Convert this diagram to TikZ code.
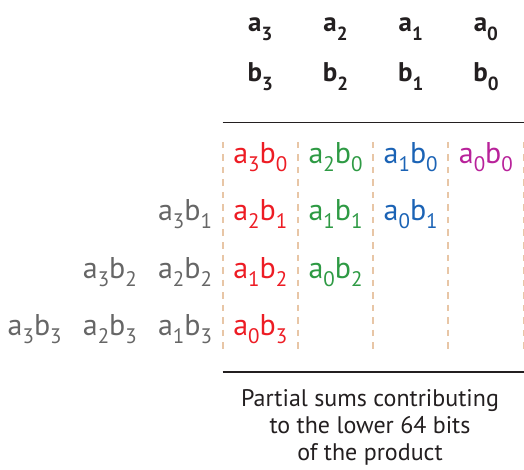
\documentclass[tikz,border=0pt]{standalone}
\usepackage{fontspec}
\setmainfont{PT Sans}

\definecolor{ink}{HTML}{231F20}
\definecolor{tan}{HTML}{E8C6A6}
\definecolor{termred}{HTML}{ED1C24}
\definecolor{termgreen}{HTML}{2E9A44}
\definecolor{termblue}{HTML}{1B63B5}
\definecolor{termmag}{HTML}{B8229A}
\definecolor{termgray}{HTML}{666666}

% lowered digit used as an index
\newcommand\cellsub[1]{\raisebox{-8pt}{\fontsize{21}{21}\selectfont #1}}
\newcommand\headsub[1]{\raisebox{-9pt}{\fontsize{19}{19}\selectfont #1}}
% one partial product a_i b_j
\newcommand\pterm[2]{a\cellsub{#1}b\cellsub{#2}}

\begin{document}
\begin{tikzpicture}[x=1pt,y=-1pt,
  cell/.style={anchor=base, inner sep=0pt, font=\fontsize{30}{30}\selectfont},
  head/.style={anchor=base, inner sep=0pt, text=ink,
    font=\fontsize{27}{27}\selectfont\bfseries},
  rulebar/.style={draw=ink, line width=1.4pt},
  colsep/.style={draw=tan, line width=2pt, dash pattern=on 6.5pt off 6pt},
  caption/.style={anchor=north, inner sep=0pt, align=center, text=ink,
    font=\fontsize{24}{27}\selectfont}]
\useasboundingbox (0,0) rectangle (524,470);

% operand digits
\node[head] (a3) at (260.3,32) {a\headsub{3}};
\node[head] (a2) at (335.5,32) {a\headsub{2}};
\node[head] (a1) at (410.7,32) {a\headsub{1}};
\node[head] (a0) at (485.9,32) {a\headsub{0}};
\node[head] (b3) at (260.3,82) {b\headsub{3}};
\node[head] (b2) at (335.5,82) {b\headsub{2}};
\node[head] (b1) at (410.7,82) {b\headsub{1}};
\node[head] (b0) at (485.9,82) {b\headsub{0}};

% rules above and below the lower half
\coordinate (topL) at (222.7,122.5);
\coordinate (topR) at (524,122.5);
\coordinate (botL) at (222.7,372);
\coordinate (botR) at (524,372);
\draw[rulebar] (topL) -- (topR);
\draw[rulebar] (botL) -- (botR);

% column separators
\foreach \i/\x in {0/222.7,1/297.9,2/373.1,3/448.3,4/523.5}{
  \coordinate (sepT\i) at (\x,142);
  \coordinate (sepB\i) at (\x,354);
  \draw[colsep] (sepT\i) -- (sepB\i);
}

% row for b0
\node[cell, text=termred]   (a3b0) at (260.3,164) {\pterm{3}{0}};
\node[cell, text=termgreen] (a2b0) at (335.5,164) {\pterm{2}{0}};
\node[cell, text=termblue]  (a1b0) at (410.7,164) {\pterm{1}{0}};
\node[cell, text=termmag]   (a0b0) at (485.9,164) {\pterm{0}{0}};

% row for b1
\node[cell, text=termgray]  (a3b1) at (185.1,221) {\pterm{3}{1}};
\node[cell, text=termred]   (a2b1) at (260.3,221) {\pterm{2}{1}};
\node[cell, text=termgreen] (a1b1) at (335.5,221) {\pterm{1}{1}};
\node[cell, text=termblue]  (a0b1) at (410.7,221) {\pterm{0}{1}};

% row for b2
\node[cell, text=termgray]  (a3b2) at (109.9,278) {\pterm{3}{2}};
\node[cell, text=termgray]  (a2b2) at (185.1,278) {\pterm{2}{2}};
\node[cell, text=termred]   (a1b2) at (260.3,278) {\pterm{1}{2}};
\node[cell, text=termgreen] (a0b2) at (335.5,278) {\pterm{0}{2}};

% row for b3
\node[cell, text=termgray]  (a3b3) at (34.7,335) {\pterm{3}{3}};
\node[cell, text=termgray]  (a2b3) at (109.9,335) {\pterm{2}{3}};
\node[cell, text=termgray]  (a1b3) at (185.1,335) {\pterm{1}{3}};
\node[cell, text=termred]   (a0b3) at (260.3,335) {\pterm{0}{3}};

% caption
\node[caption] (note) at (370,389)
  {Partial sums contributing\\to the lower 64 bits\\of the product};
\end{tikzpicture}
\end{document}
